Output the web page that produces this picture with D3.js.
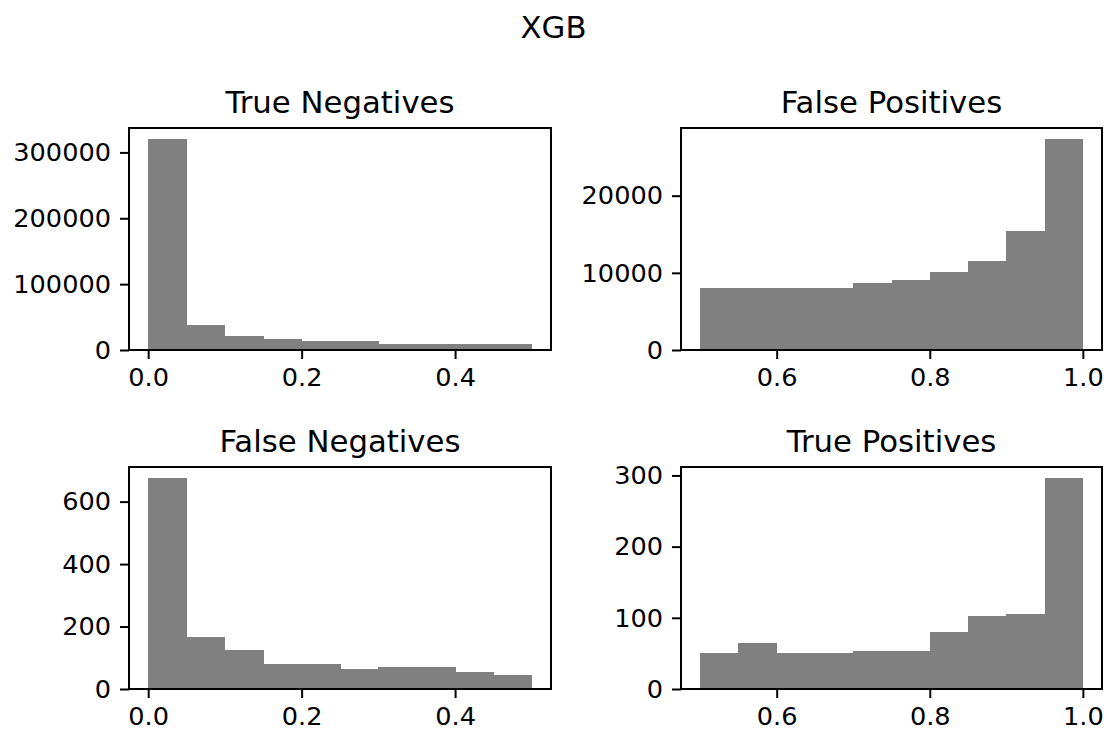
<!DOCTYPE html>
<html>
<head>
<meta charset="utf-8">
<script src="https://cdn.jsdelivr.net/npm/d3@7"></script>
<style>
  html, body { margin: 0; padding: 0; background: #fff; }
  svg { display: block; font-family: "DejaVu Sans", sans-serif; }
</style>
</head>
<body>
<svg id="chart" width="1107" height="736"></svg>
<script>
// Bin edges for the two probability ranges
const lowEdges  = [0.0, 0.05, 0.1, 0.15, 0.2, 0.25, 0.3, 0.35, 0.4, 0.45, 0.5];
const highEdges = [0.5, 0.55, 0.6, 0.65, 0.7, 0.75, 0.8, 0.85, 0.9, 0.95, 1.0];

// Counts per bin
const trueNegatives  = [321000, 37500, 21300, 16700, 13200, 13000, 9100, 9000, 9000, 8600];
const falsePositives = [8000, 8000, 8000, 8030, 8700, 9100, 10100, 11500, 15400, 27400];
const falseNegatives = [677, 166, 124, 81, 81, 64, 72, 72, 55, 46];
const truePositives  = [51, 65, 51, 51, 54, 54, 80, 103, 106, 297];

// Tick values
const lowXTicks  = [0.0, 0.2, 0.4];
const highXTicks = [0.6, 0.8, 1.0];
const tnYTicks = [0, 100000, 200000, 300000];
const fpYTicks = [0, 10000, 20000];
const fnYTicks = [0, 200, 400, 600];
const tpYTicks = [0, 100, 200, 300];

const panelTitles = ["True Negatives", "False Positives", "False Negatives", "True Positives"];
const figureTitle = "XGB";

const svg = d3.select("#chart");
const TICK_FONT = 25.6, TITLE_FONT = 30.75;

const panels = [
  { title: panelTitles[0], edges: lowEdges,  counts: trueNegatives,  xt: lowXTicks,  yt: tnYTicks, box: [129, 128, 551, 350] },
  { title: panelTitles[1], edges: highEdges, counts: falsePositives, xt: highXTicks, yt: fpYTicks, box: [681, 128, 1102, 350] },
  { title: panelTitles[2], edges: lowEdges,  counts: falseNegatives, xt: lowXTicks,  yt: fnYTicks, box: [129, 467, 551, 689] },
  { title: panelTitles[3], edges: highEdges, counts: truePositives,  xt: highXTicks, yt: tpYTicks, box: [681, 467, 1102, 689] }
];

svg.append("text")
  .attr("x", 1107 / 2).attr("y", 38)
  .attr("text-anchor", "middle")
  .attr("font-size", TITLE_FONT)
  .attr("fill", "#000")
  .text(figureTitle);

panels.forEach(p => {
  const [x0, y0, x1, y1] = p.box;
  const lo = p.edges[0], hi = p.edges[p.edges.length - 1];
  const pad = (hi - lo) * 0.05;
  const x = d3.scaleLinear().domain([lo - pad, hi + pad]).range([x0, x1]);
  const y = d3.scaleLinear().domain([0, d3.max(p.counts) * 1.05]).range([y1, y0]);

  const bins = p.counts.map((c, i) => ({ a: p.edges[i], b: p.edges[i + 1], c }));

  svg.append("g").selectAll("rect")
    .data(bins).join("rect")
    .attr("x", d => x(d.a))
    .attr("width", d => x(d.b) - x(d.a) + 0.5)
    .attr("y", d => y(d.c))
    .attr("height", d => y(0) - y(d.c))
    .attr("fill", "#808080")
    .attr("shape-rendering", "crispEdges");

  const xAxis = svg.append("g")
    .attr("transform", `translate(0,${y1})`)
    .call(d3.axisBottom(x).tickValues(p.xt).tickFormat(d3.format(".1f"))
      .tickSize(9).tickSizeOuter(0).tickPadding(9));
  const yAxis = svg.append("g")
    .attr("transform", `translate(${x0},0)`)
    .call(d3.axisLeft(y).tickValues(p.yt).tickFormat(d3.format("d"))
      .tickSize(9).tickSizeOuter(0).tickPadding(9));

  [xAxis, yAxis].forEach(g => {
    g.select(".domain").remove();
    g.selectAll(".tick line").attr("stroke", "#000").attr("stroke-width", 2);
    g.selectAll(".tick text")
      .attr("font-size", TICK_FONT)
      .attr("font-family", "DejaVu Sans, sans-serif")
      .attr("fill", "#000");
  });

  svg.append("rect")
    .attr("x", x0).attr("y", y0)
    .attr("width", x1 - x0).attr("height", y1 - y0)
    .attr("fill", "none")
    .attr("stroke", "#000")
    .attr("stroke-width", 2);

  svg.append("text")
    .attr("x", (x0 + x1) / 2).attr("y", y0 - 15.4)
    .attr("text-anchor", "middle")
    .attr("font-size", TITLE_FONT)
    .attr("fill", "#000")
    .text(p.title);
});
</script>
</body>
</html>
